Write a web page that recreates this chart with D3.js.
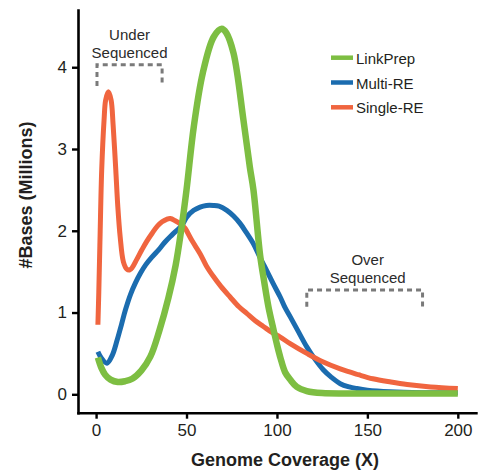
<!DOCTYPE html>
<html><head><meta charset="utf-8">
<script src="https://cdn.jsdelivr.net/npm/d3@7"></script>
<style>
body{margin:0;background:#fff}
svg{display:block}
text{font-family:"Liberation Sans",Arial,Helvetica,sans-serif}
</style>
</head><body>
<svg id="chart" width="484" height="470"></svg>
<script>
// ---- data ----
const seriesNames = ["LinkPrep", "Multi-RE", "Single-RE"];
const seriesColors = ["#7dbe42", "#1b6caf", "#f0653f"];

const linkPrepX = [1, 3, 5, 8, 12, 16, 20, 25, 30, 35, 40, 44, 47, 50, 54, 59, 65, 69.5, 72, 76, 81.5, 85, 87, 90.7, 93, 95.3, 98, 100, 102, 104.5, 107.3, 111, 116.5, 125, 140, 200];
const linkPrepY = [0.45, 0.32, 0.24, 0.18, 0.15, 0.16, 0.19, 0.29, 0.46, 0.78, 1.18, 1.58, 2.0, 2.5, 3.27, 3.93, 4.37, 4.47, 4.42, 4.17, 3.35, 2.78, 2.5, 1.7, 1.37, 1.07, 0.8, 0.61, 0.44, 0.27, 0.18, 0.09, 0.04, 0.015, 0.01, 0.01];

const multiREX = [1, 3, 6, 9, 11.6, 14, 16.2, 19, 21.7, 24.5, 27.3, 31, 34.7, 38, 42, 47.6, 50.2, 54, 57.5, 61, 64.9, 68, 72.3, 76, 79.6, 83, 87, 90.7, 94.4, 98, 101.8, 104.5, 107.3, 112, 116.5, 121, 125.6, 130, 135, 140, 144.2, 150, 162.6, 180, 200];
const multiREY = [0.52, 0.44, 0.38, 0.48, 0.66, 0.85, 1.03, 1.22, 1.36, 1.48, 1.58, 1.68, 1.77, 1.86, 1.95, 2.07, 2.17, 2.25, 2.29, 2.31, 2.31, 2.3, 2.25, 2.18, 2.09, 1.98, 1.84, 1.67, 1.51, 1.35, 1.19, 1.06, 0.95, 0.76, 0.58, 0.43, 0.3, 0.21, 0.13, 0.09, 0.07, 0.05, 0.03, 0.02, 0.02];

const singleREX = [1, 1.5, 2.2, 3.1, 4.4, 5.3, 6.8, 8.3, 9.4, 10.9, 12, 13.3, 15.1, 17, 18.5, 20, 22.5, 25.4, 28, 31, 34, 36.5, 39, 41, 44, 47.6, 49.2, 53, 57.5, 61, 64.9, 69, 74.1, 79, 83.3, 88, 92.5, 97, 101.8, 107.3, 116.5, 125, 135, 145, 153, 163, 172, 185, 200];
const singleREY = [0.85, 1.25, 1.93, 2.74, 3.35, 3.6, 3.7, 3.6, 3.3, 2.74, 2.3, 1.93, 1.62, 1.53, 1.52, 1.55, 1.65, 1.77, 1.87, 1.97, 2.06, 2.11, 2.14, 2.15, 2.12, 2.07, 2.03, 1.88, 1.72, 1.57, 1.44, 1.32, 1.19, 1.07, 0.99, 0.9, 0.83, 0.76, 0.7, 0.62, 0.5, 0.4, 0.31, 0.24, 0.19, 0.15, 0.12, 0.09, 0.07];

const xTicks = [0, 50, 100, 150, 200];
const yTicks = [0, 1, 2, 3, 4];
const xLabel = "Genome Coverage (X)";
const yLabel = "#Bases (Millions)";

const annoLines = [["Under", "Sequenced"], ["Over", "Sequenced"]];
const annoX0 = [0.5, 116.5];
const annoX1 = [36.5, 180.5];
const annoYTop = [4.03, 1.275];
const annoYBottom = [3.77, 1.07];

// ---- drawing ----
const svg = d3.select("#chart");
const x = d3.scaleLinear().domain([-10, 210]).range([78, 475.9]);
const y = d3.scaleLinear().domain([-0.225, 4.7]).range([412.7, 10]);
const textColor = "#231f20";

// axes
const xAxis = svg.append("g").attr("transform", `translate(0,${y(-0.225)})`)
  .call(d3.axisBottom(x).tickValues(xTicks).tickFormat(d3.format("d")).tickSizeOuter(0).tickSizeInner(6).tickPadding(5));
const yAxis = svg.append("g").attr("transform", `translate(${x(-10)},0)`)
  .call(d3.axisLeft(y).tickValues(yTicks).tickFormat(d3.format("d")).tickSizeOuter(0).tickSizeInner(6).tickPadding(5));
[xAxis, yAxis].forEach(g => {
  g.select(".domain").attr("stroke", "#000").attr("stroke-width", 2.6).attr("stroke-linecap", "square");
  g.selectAll(".tick line").attr("stroke", "#000").attr("stroke-width", 2.4);
  g.selectAll(".tick text").attr("fill", textColor).style("font-size", "17px")
    .style("font-family", '"Liberation Sans",Arial,sans-serif');
});

// axis titles
svg.append("text").attr("x", (x(-10) + x(210)) / 2 + 8).attr("y", 466)
  .attr("text-anchor", "middle").style("font-size", "18px").style("font-weight", "bold")
  .attr("fill", textColor).text(xLabel);
svg.append("text").attr("transform", "translate(32,195) rotate(-90)")
  .attr("text-anchor", "middle").style("font-size", "18px").style("font-weight", "bold")
  .attr("fill", textColor).text(yLabel);

// lines
const seriesX = [linkPrepX, multiREX, singleREX];
const seriesY = [linkPrepY, multiREY, singleREY];
const widths = [6.5, 5, 5];
const line = d3.line().x(d => x(d[0])).y(d => y(d[1])).curve(d3.curveCatmullRom.alpha(0.5));
const drawOrder = [1, 2, 0];
drawOrder.forEach(i => {
  const pts = seriesX[i].map((v, j) => [v, seriesY[i][j]]);
  svg.append("path").datum(pts).attr("d", line)
    .attr("fill", "none").attr("stroke", seriesColors[i])
    .attr("stroke-width", widths[i]).attr("stroke-linejoin", "round").attr("stroke-linecap", "butt");
});

// legend
seriesNames.forEach((name, i) => {
  const cy = 57.7 + i * 24.8;
  svg.append("line").attr("x1", 331).attr("x2", 353).attr("y1", cy).attr("y2", cy)
    .attr("stroke", seriesColors[i]).attr("stroke-width", 4.5);
  svg.append("text").attr("x", 356).attr("y", cy + 6).style("font-size", "15px")
    .attr("fill", textColor).text(name);
});

// annotations
annoLines.forEach((lines, i) => {
  const x0 = x(annoX0[i]), x1 = x(annoX1[i]);
  const yt = y(annoYTop[i]), yb = y(annoYBottom[i]);
  svg.append("path").attr("d", `M${x0},${yb}L${x0},${yt}L${x1},${yt}L${x1},${yb}`)
    .attr("fill", "none").attr("stroke", "#7a7a7a").attr("stroke-width", 3)
    .attr("stroke-dasharray", "5,4");
  const cx = (x0 + x1) / 2 + (i === 1 ? 3 : 0);
  lines.forEach((t, k) => {
    svg.append("text").attr("x", cx).attr("y", yt - 7 - (lines.length - 1 - k) * 18)
      .attr("text-anchor", "middle").style("font-size", "15px").attr("fill", "#2b2b2b").text(t);
  });
});
</script>
</body></html>
